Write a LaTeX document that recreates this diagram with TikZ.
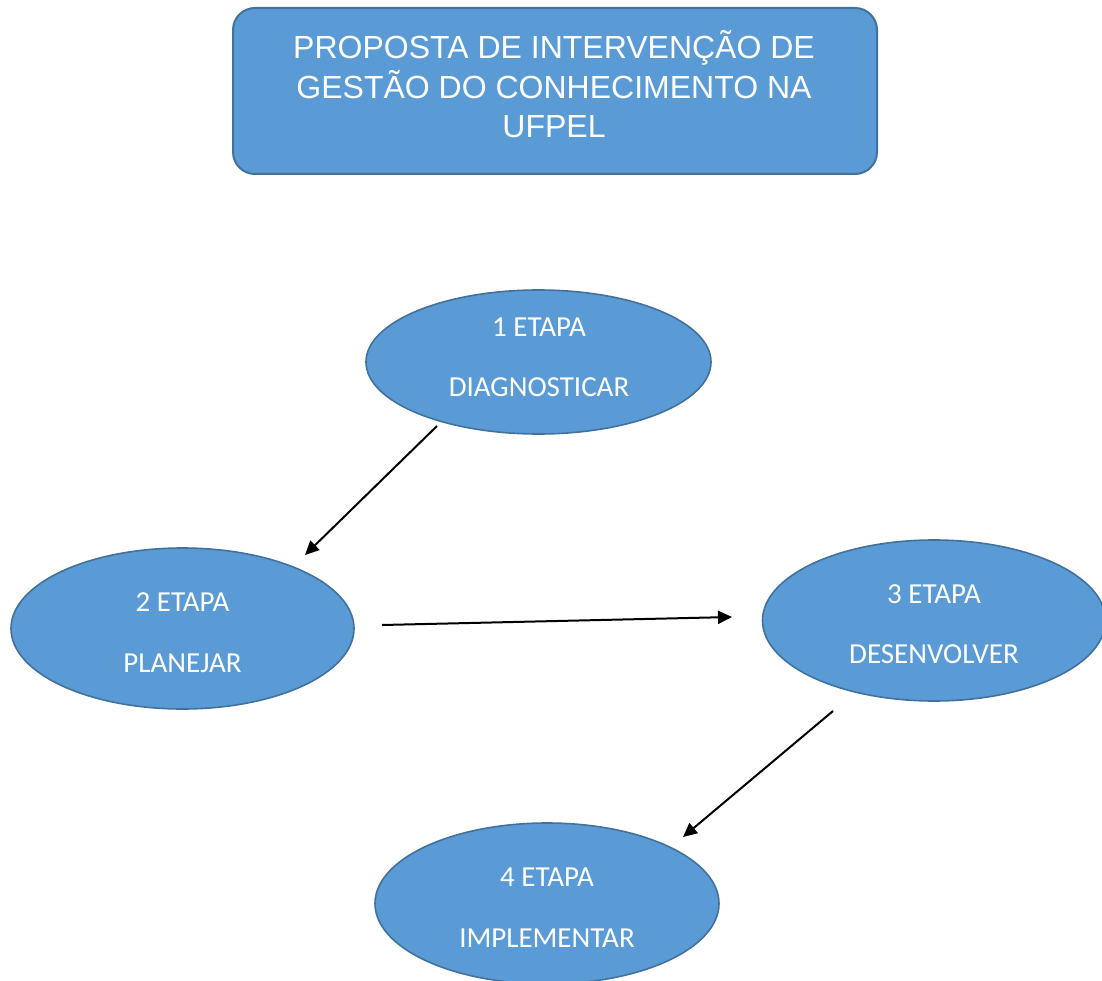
\documentclass[tikz,border=0pt]{standalone}
\usepackage{fontspec}
\setmainfont{Liberation Sans}
\newfontfamily\calfont{Carlito}
\usetikzlibrary{shapes.geometric,arrows.meta}
\definecolor{boxfill}{HTML}{5B9BD5}
\definecolor{boxline}{HTML}{41719C}
\tikzset{
  titlebox/.style={draw=boxline, fill=boxfill, line width=2pt, rounded corners=22pt},
  stage/.style={ellipse, draw=boxline, fill=boxfill, line width=1.6pt, inner sep=0pt},
  titletxt/.style={text=white, font=\fontsize{32}{39}\selectfont, anchor=base, inner sep=0pt},
  stagetxt/.style={text=white, font=\calfont\fontsize{29}{35}\selectfont, anchor=base, inner sep=0pt},
  flow/.style={line width=2pt, -{Triangle[length=14pt,width=13pt]}}
}
\begin{document}
\begin{tikzpicture}[x=1pt,y=-1pt]
\useasboundingbox (0,0) rectangle (1102,981);
% title
\draw[titlebox] (233,8) rectangle (877,174);
\node[titletxt] (t1) at (554,59) {PROPOSTA DE INTERVENÇÃO DE};
\node[titletxt] (t2) at (554,99) {GESTÃO DO CONHECIMENTO NA};
\node[titletxt] (t3) at (554,138) {UFPEL};
% stages
\node[stage, minimum width=345pt, minimum height=144pt] (e1) at (538.5,362) {};
\node[stagetxt] (e1a) at (539,336) {1 ETAPA};
\node[stagetxt] (e1b) at (539,396) {DIAGNOSTICAR};
\node[stage, minimum width=343pt, minimum height=161pt] (e2) at (182.5,628.5) {};
\node[stagetxt] (e2a) at (182.5,611) {2 ETAPA};
\node[stagetxt] (e2b) at (182.5,672) {PLANEJAR};
\node[stage, minimum width=343pt, minimum height=161pt] (e3) at (934,620.5) {};
\node[stagetxt] (e3a) at (934,603) {3 ETAPA};
\node[stagetxt] (e3b) at (934,663) {DESENVOLVER};
\node[stage, minimum width=344pt, minimum height=161pt] (e4) at (547,903.5) {};
\node[stagetxt] (e4a) at (547,886) {4 ETAPA};
\node[stagetxt] (e4b) at (547,947) {IMPLEMENTAR};
% connectors
\coordinate (a1s) at (437,426);
\coordinate (a1e) at (305,555);
\coordinate (a2s) at (382,625);
\coordinate (a2e) at (732,617);
\coordinate (a3s) at (833,711);
\coordinate (a3e) at (683,837);
\draw[flow] (a1s) -- (a1e);
\draw[flow] (a2s) -- (a2e);
\draw[flow] (a3s) -- (a3e);
\end{tikzpicture}
\end{document}
